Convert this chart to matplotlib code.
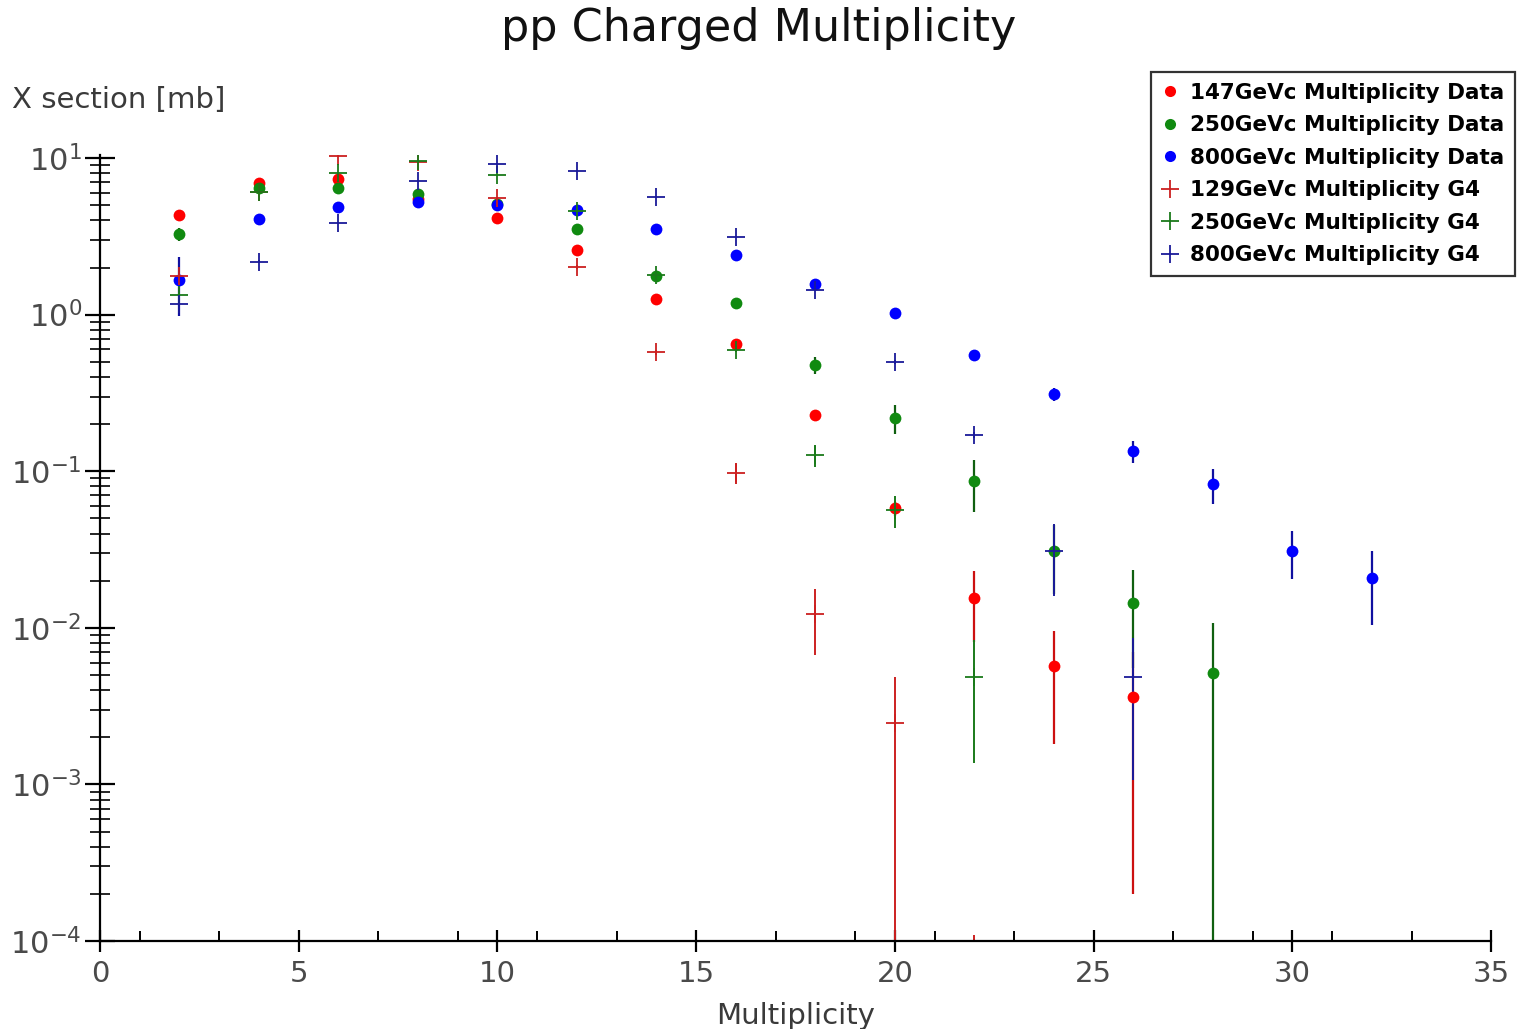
import numpy as np
import matplotlib
matplotlib.use("Agg")
import matplotlib.pyplot as plt
from matplotlib.lines import Line2D
from matplotlib.ticker import MultipleLocator, LogLocator, FixedLocator

# Data (multiplicity vs cross section in mb)
x_red_data = [2, 4, 6, 8, 10, 12, 14, 16, 18, 20, 22, 24, 26]
y_red_data = [4.3, 6.9, 7.3, 5.5, 4.16, 2.58, 1.26, 0.654, 0.229, 0.058, 0.0156, 0.0057, 0.0036]
e_red_data = [0.12, 0.15, 0.15, 0.12, 0.1, 0.07, 0.05, 0.03, 0.012, 0.006, 0.0075, 0.0039, 0.0034]

x_green_data = [2, 4, 6, 8, 10, 12, 14, 16, 18, 20, 22, 24, 26, 28]
y_green_data = [3.27, 6.4, 6.4, 5.9, 5.1, 3.52, 1.77, 1.19, 0.477, 0.218, 0.0866, 0.031, 0.0145, 0.00516]
e_green_data = [0.3, 0.2, 0.2, 0.2, 0.2, 0.15, 0.1, 0.08, 0.06, 0.045, 0.032, 0.0145, 0.009, 0.0055]

x_blue_data = [2, 4, 6, 8, 10, 12, 14, 16, 18, 20, 22, 24, 26, 28, 30, 32]
y_blue_data = [1.66, 4.06, 4.89, 5.26, 5.0, 4.66, 3.52, 2.40, 1.57, 1.03, 0.552, 0.311, 0.135, 0.0828, 0.031, 0.0207]
e_blue_data = [0.68, 0.2, 0.2, 0.2, 0.2, 0.2, 0.15, 0.1, 0.08, 0.06, 0.04, 0.03, 0.022, 0.021, 0.0105, 0.0103]

x_red_g4 = [2, 4, 6, 8, 10, 12, 14, 16, 18, 20, 22]
y_red_g4 = [1.76, 6.1, 10.3, 9.5, 5.55, 2.02, 0.574, 0.098, 0.0122, 0.00246, 0.00009]
e_red_g4 = [0.05, 0.1, 0.1, 0.1, 0.08, 0.05, 0.02, 0.015, 0.0055, 0.0024, 0.00002]

x_green_g4 = [2, 4, 6, 8, 10, 12, 14, 16, 18, 20, 22]
y_green_g4 = [1.33, 6.1, 8.0, 9.6, 7.8, 4.6, 1.8, 0.594, 0.127, 0.0565, 0.00487]
e_green_g4 = [0.04, 0.1, 0.1, 0.1, 0.1, 0.06, 0.03, 0.02, 0.02, 0.013, 0.0035]

x_blue_g4 = [2, 4, 6, 8, 10, 12, 14, 16, 18, 20, 22, 24, 26]
y_blue_g4 = [1.17, 2.18, 3.86, 7.13, 9.16, 8.3, 5.61, 3.14, 1.44, 0.50, 0.170, 0.031, 0.00487]
e_blue_g4 = [0.03, 0.05, 0.06, 0.1, 0.1, 0.1, 0.08, 0.05, 0.03, 0.015, 0.008, 0.015, 0.0038]

labels = ["147GeVc Multiplicity Data", "250GeVc Multiplicity Data", "800GeVc Multiplicity Data",
          "129GeVc Multiplicity G4", "250GeVc Multiplicity G4", "800GeVc Multiplicity G4"]

plt.rcParams['font.family'] = ['DejaVu Sans']

fig = plt.figure(figsize=(15.17, 10.29), dpi=100)
ax = fig.add_axes([0.0659, 0.0855, 0.9170, 0.7635])

data_sets = [
    (x_red_data, y_red_data, e_red_data, '#ff0000', '#cc1010'),
    (x_green_data, y_green_data, e_green_data, '#108a10', '#106010'),
    (x_blue_data, y_blue_data, e_blue_data, '#0000ff', '#1010a0'),
]
g4_sets = [
    (x_red_g4, y_red_g4, e_red_g4, '#cc2020'),
    (x_green_g4, y_green_g4, e_green_g4, '#1a7a1a'),
    (x_blue_g4, y_blue_g4, e_blue_g4, '#1a1a99'),
]

for xs, ys, es, c, ec in data_sets:
    ax.errorbar(xs, ys, yerr=es, fmt='o', color=c, ecolor=ec, ms=8.5,
                elinewidth=1.6, capsize=0, mew=0)
for xs, ys, es, c in g4_sets:
    ax.errorbar(xs, ys, yerr=es, fmt='+', color=c, ecolor=c, ms=13,
                mew=1.3, elinewidth=1.4, capsize=0)

ax.set_yscale('log')
ax.set_xlim(0, 35)
ax.set_ylim(1e-4, 10.4)

for s in ['top', 'right']:
    ax.spines[s].set_visible(False)
for s in ['left', 'bottom']:
    ax.spines[s].set_linewidth(1.6)

ax.xaxis.set_major_locator(MultipleLocator(5))
# x minor ticks only at odd values
ax.xaxis.set_minor_locator(FixedLocator([1, 3, 7, 9, 11, 13, 17, 19, 21, 23, 27, 29, 31, 33]))
ax.yaxis.set_major_locator(LogLocator(base=10))
ax.yaxis.set_minor_locator(LogLocator(base=10, subs=np.arange(2, 10), numticks=20))

ax.tick_params(axis='x', which='major', direction='inout', length=16, width=1.6,
               labelsize=21, labelcolor='#4a4a4a', pad=6)
ax.tick_params(axis='x', which='minor', direction='in', length=7, width=1.4)
ax.tick_params(axis='y', which='major', direction='inout', length=22, width=1.6,
               labelsize=22, labelcolor='#4a4a4a', pad=2)
ax.tick_params(axis='y', which='minor', direction='inout', length=14, width=1.2)

ax.set_xlabel('Multiplicity', fontsize=21, color='#3a3a3a', labelpad=10)
fig.text(0.5, 0.972, 'pp Charged Multiplicity', ha='center', va='center', fontsize=32, color='#111111')
fig.text(0.008, 0.903, 'X section [mb]', ha='left', va='center', fontsize=21, color='#3a3a3a')

handles = [
    Line2D([], [], ls='none', marker='o', color='#ff0000', ms=8, mew=0),
    Line2D([], [], ls='none', marker='o', color='#108a10', ms=8, mew=0),
    Line2D([], [], ls='none', marker='o', color='#0000ff', ms=8, mew=0),
    Line2D([], [], ls='none', marker='+', color='#cc2020', ms=13, mew=1.3),
    Line2D([], [], ls='none', marker='+', color='#1a7a1a', ms=13, mew=1.3),
    Line2D([], [], ls='none', marker='+', color='#1a1a99', ms=13, mew=1.3),
]
leg = fig.legend(handles, labels, loc='upper right', bbox_to_anchor=(0.9985, 0.930),
                 prop={'weight': 'bold', 'size': 15.5}, frameon=True, fancybox=False,
                 handlelength=0.8, handletextpad=0.5, borderpad=0.5, labelspacing=0.58,
                 borderaxespad=0)
leg.get_frame().set_edgecolor('black')
leg.get_frame().set_linewidth(1.6)

fig.savefig('out.png', dpi=100)
